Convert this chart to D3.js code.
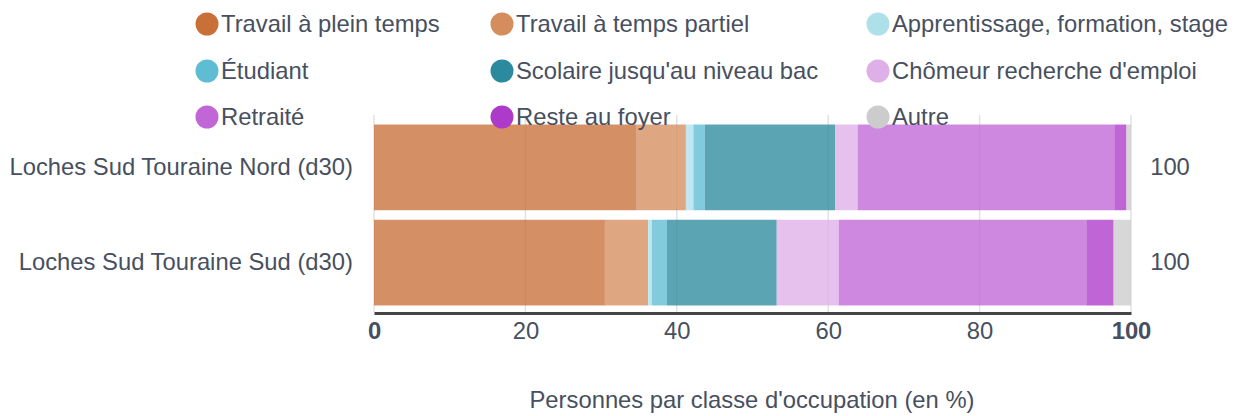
<!DOCTYPE html>
<html>
<head>
<meta charset="utf-8">
<script src="https://cdnjs.cloudflare.com/ajax/libs/d3/7.8.5/d3.min.js"></script>
<style>
    body { margin: 0; background: #fff; }
    text { font-family: "Liberation Sans", Arial, sans-serif; fill: #474f60; }
</style>
</head>
<body>
<script>
var width = 1235,
    height = 416;

var categories = ['Loches Sud Touraine Nord (d30)', 'Loches Sud Touraine Sud (d30)'];

var series = [
    'Travail à plein temps', 'Travail à temps partiel', 'Apprentissage, formation, stage',
    'Étudiant', 'Scolaire jusqu\'au niveau bac', 'Chômeur recherche d\'emploi',
    'Retraité', 'Reste au foyer', 'Autre'
];

var colors = ['#c96f38', '#d58d5e', '#aee0ea', '#5fbdd3', '#2b8a9e', '#dfb0e8', '#c066d6', '#ad3ac9', '#cccccc'];

// one row per category, one value per series (in %)
var nordValues = [34.7, 6.5, 1.0, 1.5, 17.2, 3.0, 33.9, 1.6, 0.6];
var sudValues = [30.5, 5.7, 0.5, 2.0, 14.5, 8.2, 32.7, 3.6, 2.3];
var totals = [100, 100];

var ticks = [0, 20, 40, 60, 80, 100];

var fontSize = '23.8px';

var svg = d3.select('body')
    .append('svg')
    .attr('width', width)
    .attr('height', height);

var x = d3.scaleLinear()
    .domain([0, 100])
    .range([374, 1131]);

var y = d3.scaleBand()
    .domain(categories)
    .range([115, 315])
    .paddingInner(0.1)
    .paddingOuter(0.1);

var rows = [nordValues, sudValues].map(function(vals, i) {
    var obj = {cat: categories[i]};
    series.forEach((s, j) => obj[s] = vals[j]);
    return obj;
});

var stacked = d3.stack().keys(series)(rows);

// grid
svg.append('g')
    .attr('class', 'grid')
    .selectAll('line')
    .data(ticks).enter()
    .append('line')
    .attr('x1', d => x(d))
    .attr('x2', d => x(d))
    .attr('y1', 115)
    .attr('y2', 312)
    .attr('stroke', '#e2e2e2')
    .attr('stroke-width', 1.5);

// bars
svg.append('g')
    .selectAll('g')
    .data(stacked).enter()
    .append('g')
    .attr('fill', (d, i) => colors[i])
    .attr('fill-opacity', 0.78)
    .selectAll('rect')
    .data(d => d).enter()
    .append('rect')
    .attr('x', d => x(d[0]))
    .attr('width', d => x(d[1]) - x(d[0]))
    .attr('y', d => y(d.data.cat))
    .attr('height', y.bandwidth());

// totals on the right
svg.append('g')
    .selectAll('text')
    .data(categories).enter()
    .append('text')
    .attr('x', 1170)
    .attr('y', d => y(d) + y.bandwidth() / 2)
    .attr('dy', '0.3em')
    .attr('text-anchor', 'middle')
    .style('font-size', fontSize)
    .text((d, i) => totals[i]);

// category labels
svg.append('g')
    .selectAll('text')
    .data(categories).enter()
    .append('text')
    .attr('x', 353)
    .attr('y', d => y(d) + y.bandwidth() / 2)
    .attr('dy', '0.3em')
    .attr('text-anchor', 'end')
    .style('font-size', fontSize)
    .text(d => d);

// x axis
var axis = svg.append('g')
    .attr('transform', 'translate(0,313)')
    .call(d3.axisBottom(x).tickValues(ticks).tickSize(0).tickPadding(9));

axis.select('.domain')
    .attr('stroke', '#444')
    .attr('stroke-width', 3);

axis.selectAll('text')
    .style('font-size', fontSize)
    .style('font-family', '"Liberation Sans", Arial, sans-serif')
    .style('fill', '#474f60')
    .style('font-weight', d => (d === 0 || d === 100) ? 'bold' : 'normal');

svg.append('text')
    .attr('x', 752)
    .attr('y', 408)
    .attr('text-anchor', 'middle')
    .style('font-size', fontSize)
    .text('Personnes par classe d\'occupation (en %)');

// legend
var legendX = [207, 502, 878],
    legendY = [24, 71, 117];

var legend = svg.append('g')
    .selectAll('g')
    .data(series).enter()
    .append('g')
    .attr('transform', (d, i) => 'translate(' + legendX[i % 3] + ',' + legendY[Math.floor(i / 3)] + ')');

legend.append('circle')
    .attr('r', 11.5)
    .attr('fill', (d, i) => colors[i]);

legend.append('text')
    .attr('x', 14)
    .attr('dy', '0.33em')
    .style('font-size', fontSize)
    .text(d => d);
</script>
</body>
</html>
